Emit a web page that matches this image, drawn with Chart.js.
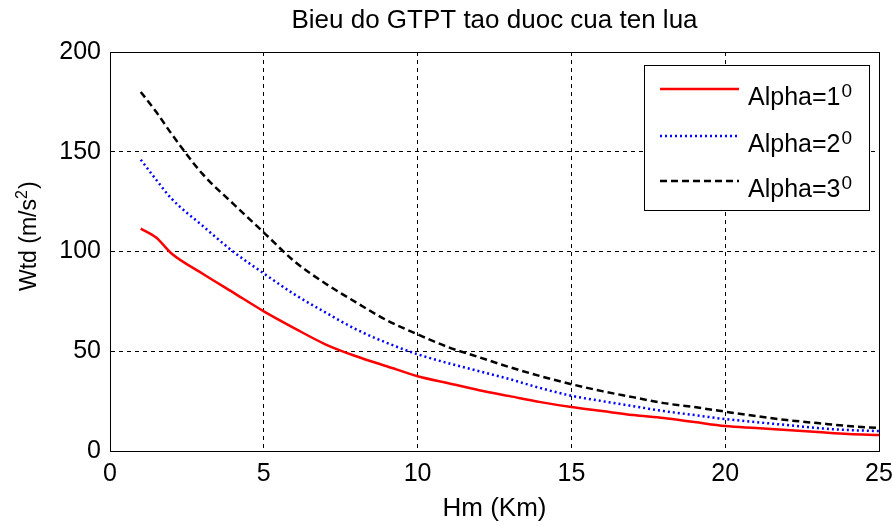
<!DOCTYPE html>
<html>
<head>
<meta charset="utf-8">
<script src="https://cdn.jsdelivr.net/npm/chart.js@4.4.0/dist/chart.umd.min.js"></script>
<style>
  html, body { margin: 0; padding: 0; background: #fff; }
  #wrap { width: 892px; height: 526px; }
</style>
</head>
<body>
<div id="wrap"><canvas id="chart"></canvas></div>
<script>
// values
const hm     = [1, 1.5, 2, 3, 4, 5, 6, 7, 8, 9, 10, 11, 12, 13, 14, 15, 16, 17, 18, 19, 20, 21, 22, 23, 24, 25];
const alpha1 = [111.5, 107, 99, 89, 79.5, 70, 61.5, 53.5, 47.5, 42.5, 37.5, 34, 30.5, 27.5, 24.5, 22, 20, 18, 16.5, 14.5, 12.5, 11.5, 10.5, 9.5, 8.5, 8];
const alpha2 = [146, 136, 126.5, 113, 100, 89, 78.5, 69.5, 61, 54.2, 48.5, 44, 40, 36, 31.5, 27.7, 25, 22.5, 20, 18, 16, 14.5, 13, 11.5, 10.5, 10];
const alpha3 = [180, 170, 159, 139, 124, 109.5, 95, 84, 74.5, 65.5, 58.5, 52, 47, 42, 37.5, 33.5, 30, 27, 24, 22, 19.7, 17.5, 15.5, 14, 12.5, 11.5];
const seriesNames = ['Alpha=1', 'Alpha=2', 'Alpha=3'];
const xTicks = [0, 5, 10, 15, 20, 25];
const yTicks = [0, 50, 100, 150, 200];

const FONT = '"Liberation Sans", Arial, sans-serif';

function pts(ys) {
  return hm.map((x, i) => ({ x: x, y: ys[i] }));
}

// frame, title, y label with superscript and the legend box inside the plot
const extras = {
  id: 'extras',
  afterDraw(chart) {
    const ctx = chart.ctx;
    const a = chart.chartArea;
    ctx.save();
    ctx.strokeStyle = '#000';
    ctx.lineWidth = 1;
    ctx.setLineDash([]);
    ctx.strokeRect(Math.round(a.left) + 0.5, Math.round(a.top) + 0.5,
                   Math.round(a.right - a.left), Math.round(a.bottom - a.top));

    // title
    ctx.fillStyle = '#000';
    ctx.font = '26px ' + FONT;
    ctx.textAlign = 'center';
    ctx.textBaseline = 'alphabetic';
    ctx.fillText('Bieu do GTPT tao duoc cua ten lua', (a.left + a.right) / 2, 28);

    // y axis label
    ctx.save();
    ctx.translate(36, 291);
    ctx.rotate(-Math.PI / 2);
    ctx.textAlign = 'left';
    ctx.font = '23px ' + FONT;
    const p1 = 'Wtd (m/s';
    ctx.fillText(p1, 0, 0);
    let w = ctx.measureText(p1).width;
    ctx.font = '16px ' + FONT;
    ctx.fillText('2', w, -9);
    w += ctx.measureText('2').width + 1;
    ctx.font = '23px ' + FONT;
    ctx.fillText(')', w, 0);
    ctx.restore();

    // legend
    const bw = 225, bh = 145;
    const bx = Math.round(a.right) - 10 - bw, by = 65;
    ctx.fillStyle = '#fff';
    ctx.fillRect(bx, by, bw, bh);
    ctx.strokeStyle = '#000';
    ctx.lineWidth = 1;
    ctx.strokeRect(bx + 0.5, by + 0.5, bw, bh);
    const rows = [89, 136, 181];
    chart.data.datasets.forEach((ds, i) => {
      const y = rows[i];
      ctx.strokeStyle = ds.borderColor;
      ctx.lineWidth = ds.borderWidth;
      ctx.setLineDash(ds.borderDash || []);
      ctx.beginPath();
      ctx.moveTo(bx + 16, y);
      ctx.lineTo(bx + 95, y);
      ctx.stroke();
      ctx.setLineDash([]);
      ctx.fillStyle = '#000';
      ctx.textAlign = 'left';
      ctx.textBaseline = 'alphabetic';
      ctx.font = '25px ' + FONT;
      ctx.fillText(seriesNames[i], bx + 104, y + 16);
      const tw = ctx.measureText(seriesNames[i]).width;
      ctx.font = '19px ' + FONT;
      ctx.fillText('0', bx + 104 + tw + 1, y + 8);
    });
    ctx.restore();
  }
};

new Chart(document.getElementById('chart'), {
  type: 'line',
  data: {
    datasets: [
      {
        label: seriesNames[0], data: pts(alpha1),
        borderColor: '#ff0000', borderWidth: 2.5, borderDash: [],
        pointRadius: 0, cubicInterpolationMode: 'monotone', fill: false
      },
      {
        label: seriesNames[1], data: pts(alpha2),
        borderColor: '#0000ff', borderWidth: 2.5, borderDash: [2, 3],
        pointRadius: 0, cubicInterpolationMode: 'monotone', fill: false
      },
      {
        label: seriesNames[2], data: pts(alpha3),
        borderColor: '#000000', borderWidth: 2.5, borderDash: [7, 4],
        pointRadius: 0, cubicInterpolationMode: 'monotone', fill: false
      }
    ]
  },
  options: {
    responsive: true,
    maintainAspectRatio: false,
    animation: false,
    layout: { padding: { top: 52, right: 13, left: 0, bottom: 0 } },
    plugins: {
      legend: { display: false },
      title: { display: false },
      tooltip: { enabled: false }
    },
    scales: {
      x: {
        type: 'linear', min: 0, max: 25,
        afterBuildTicks: s => { s.ticks = xTicks.map(v => ({ value: v })); },
        afterFit: s => { s.height = 75; s.paddingRight = 0; s.paddingLeft = 0; },
        grid: { color: '#000', lineWidth: 1, drawTicks: false },
        border: { color: '#000', dash: [4, 4], display: true },
        ticks: { color: '#000', font: { family: FONT, size: 25 }, padding: 8, maxRotation: 0 },
        title: { display: true, text: 'Hm (Km)', color: '#000', font: { family: FONT, size: 26 }, padding: { top: 0, bottom: 2 } }
      },
      y: {
        type: 'linear', min: 0, max: 200,
        afterBuildTicks: s => { s.ticks = yTicks.map(v => ({ value: v })); },
        afterFit: s => { s.width = 110; },
        grid: { color: '#000', lineWidth: 1, drawTicks: false },
        border: { color: '#000', dash: [4, 4], display: true },
        ticks: { color: '#000', font: { family: FONT, size: 25 }, padding: 9 },
        title: { display: false }
      }
    }
  },
  plugins: [extras]
});
</script>
</body>
</html>
